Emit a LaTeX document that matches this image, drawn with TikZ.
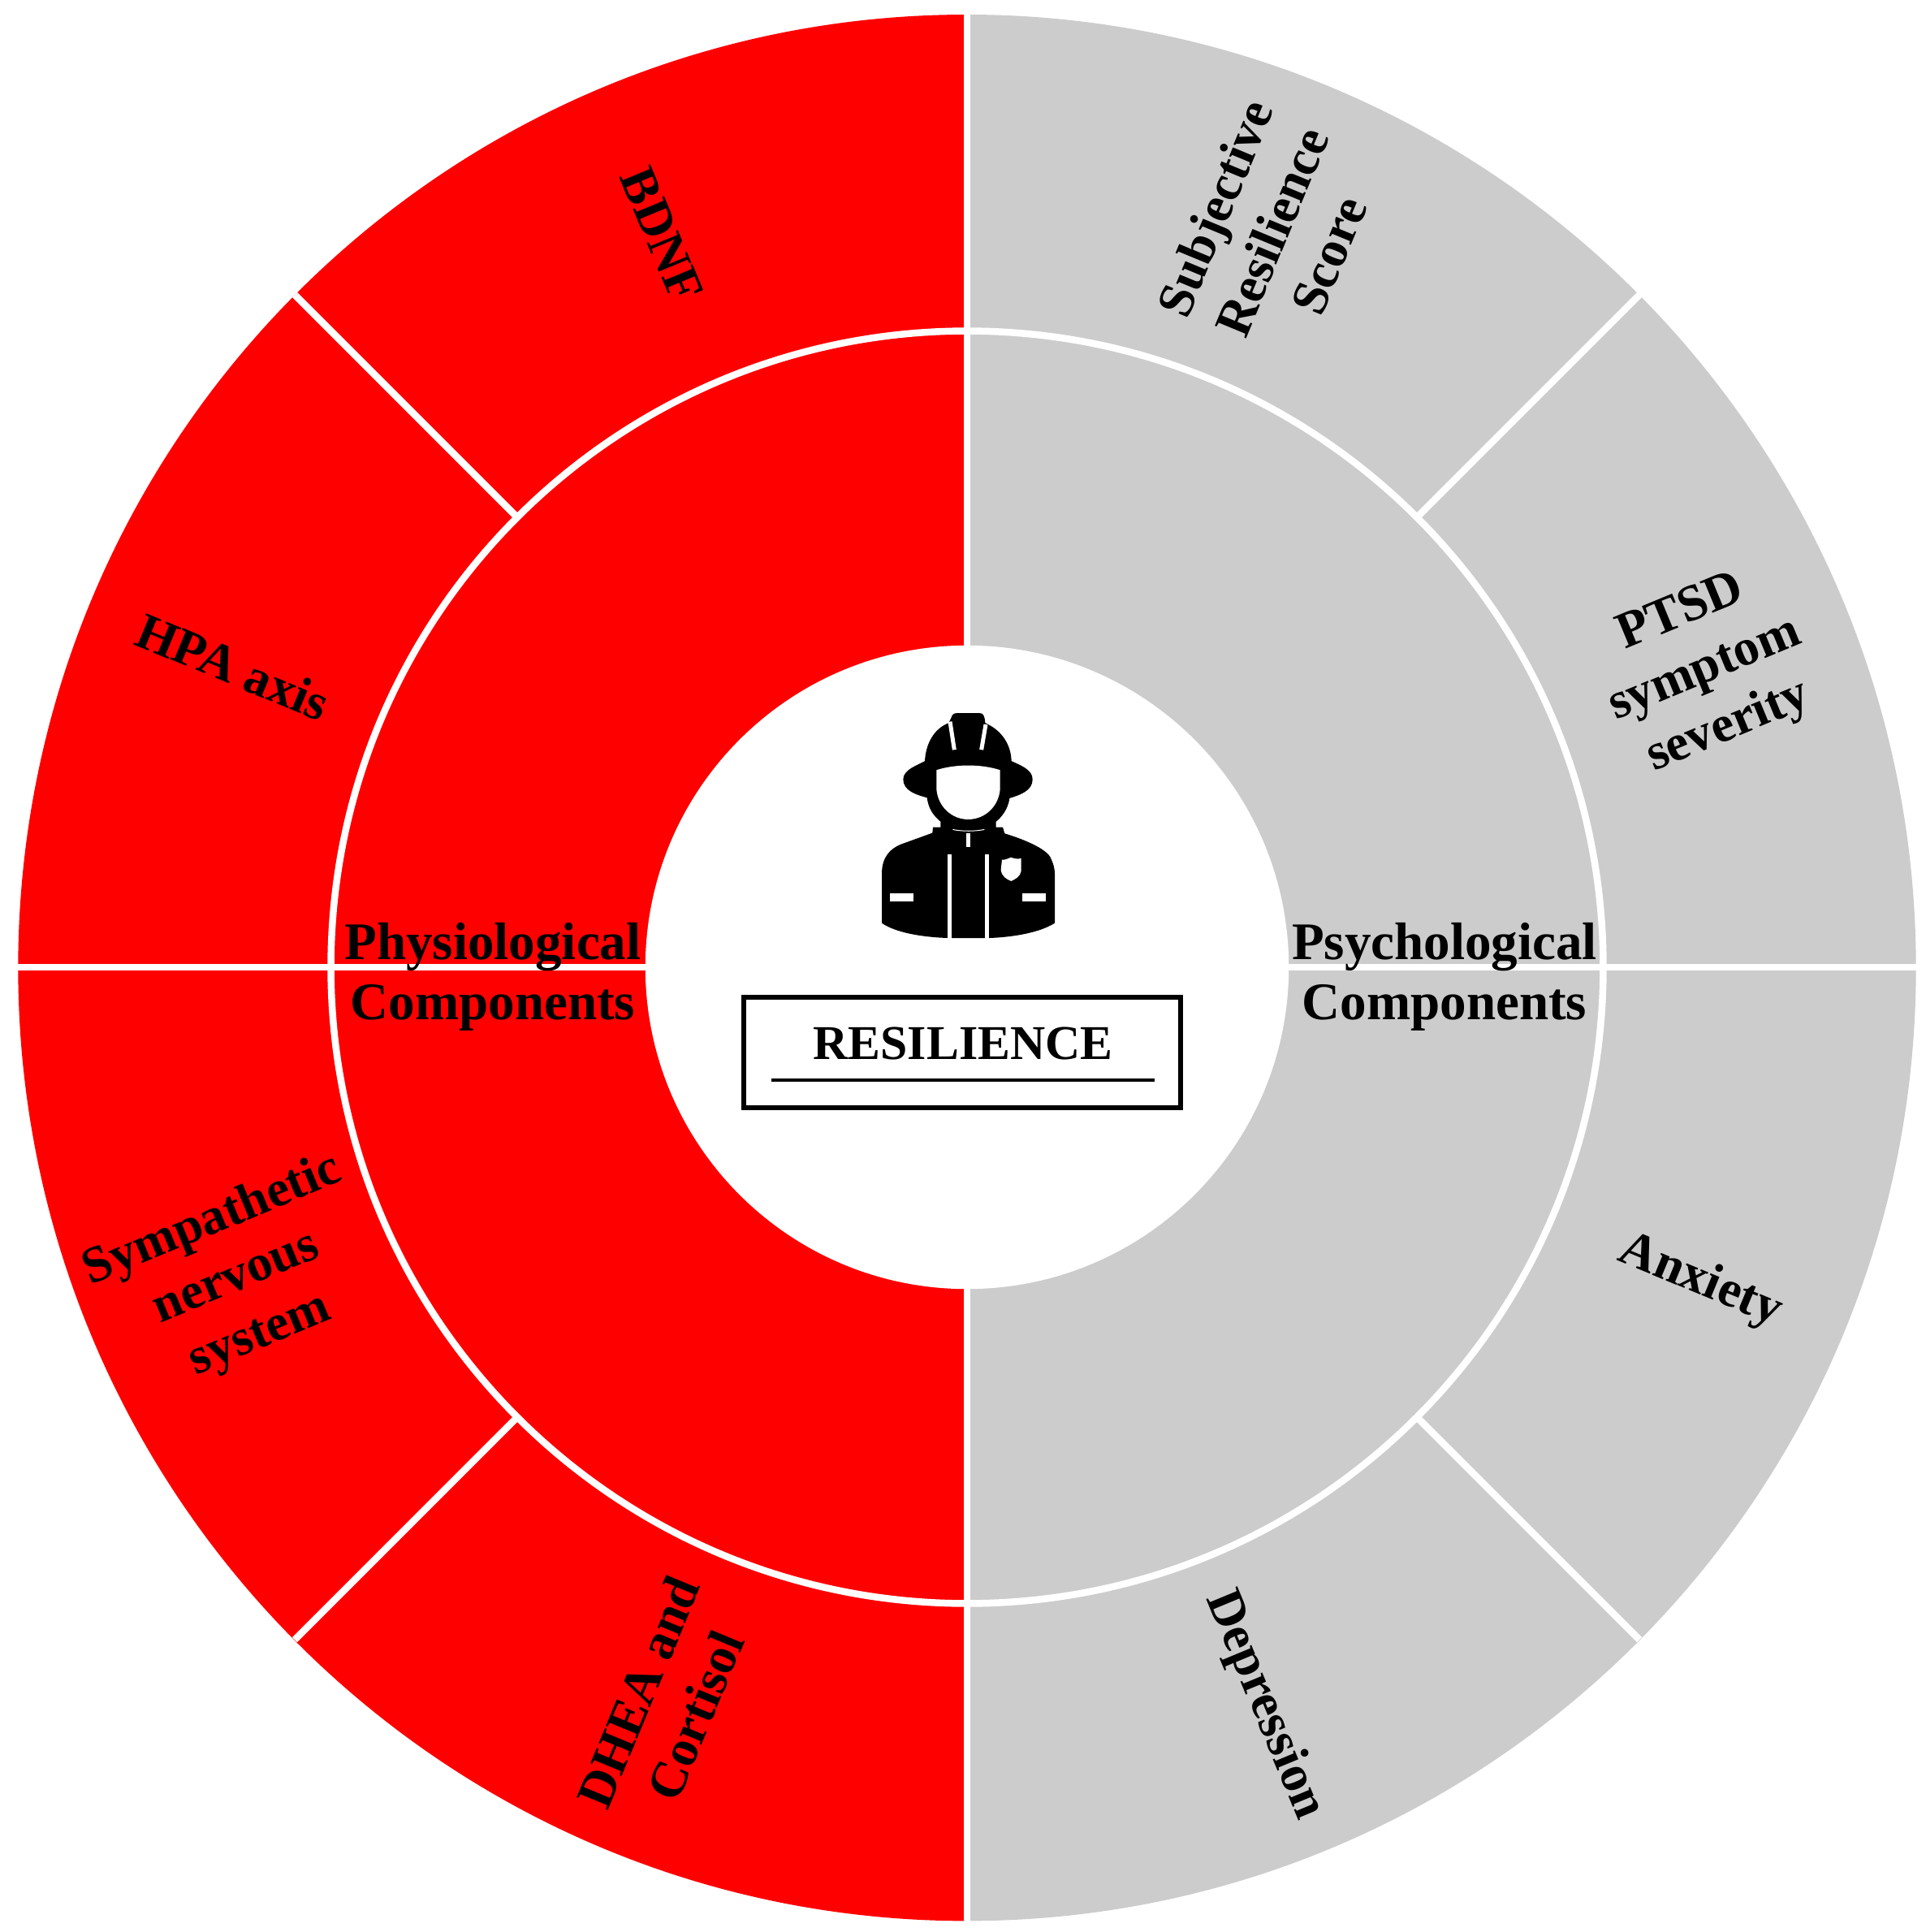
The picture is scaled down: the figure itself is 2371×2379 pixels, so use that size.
\documentclass[tikz,border=0pt]{standalone}
\usepackage{xcolor}
\usepackage{fontspec}
\setmainfont{Liberation Serif}
\usepackage{tikz}
\usetikzlibrary{arrows.meta, positioning}
\definecolor{ringred}{HTML}{FF0000}
\definecolor{ringgray}{HTML}{CCCCCC}
\tikzset{
  lbl/.style={align=center, inner sep=0pt, font=\fontsize{18}{21.6}\selectfont\bfseries},
  grouplbl/.style={align=center, inner sep=0pt, font=\fontsize{18.5}{21}\selectfont\bfseries},
  reslbl/.style={inner sep=0pt, font=\fontsize{17}{20}\selectfont\bfseries},
  gap/.style={draw=white, line width=0.085cm},
  namebox/.style={rectangle, draw=black, line width=0.06cm, fill=white, minimum width=5.38cm, minimum height=1.35cm, inner sep=0pt},
  iconcut/.style={fill=white},
  iconline/.style={draw=white, line width=0.05cm},
}
\begin{document}
\begin{tikzpicture}[x=0.01cm, y=-0.01cm]
    \useasboundingbox (0,0) rectangle (2371,2379);

    % rings
    \fill[ringred] (1191,18) arc[start angle=90, end angle=270, x radius=11.68cm, y radius=11.73cm] -- cycle;
    \fill[ringgray] (1191,18) arc[start angle=90, end angle=-90, x radius=11.68cm, y radius=11.73cm] -- cycle;
    \draw[gap] (1191,1191) circle[radius=7.83cm];
    \draw[gap] (1191,10) -- (1191,2370);
    \draw[gap] (10,1191) -- (2370,1191);
    \draw[gap] (363,363) -- (637,637);
    \draw[gap] (2019,363) -- (1745,637);
    \draw[gap] (363,2019) -- (637,1745);
    \draw[gap] (2019,2019) -- (1745,1745);
    \fill[white] (1191,1191) circle[radius=3.96cm];

    % outer labels
    \node[lbl, rotate=-67.5] (bdnf) at (815,289) {BDNF};
    \node[lbl, rotate=-22.5] (hpa) at (287,821) {HPA axis};
    \node[lbl, rotate=22.5] (symp) at (291,1574) {Sympathetic\\nervous\\system};
    \node[lbl, rotate=67.5] (dhea) at (821,2098) {DHEA and\\Cortisol};
    \node[lbl, rotate=67.5] (subj) at (1566,285) {Subjective\\Resilience\\Score};
    \node[lbl, rotate=22.5] (ptsd) at (2100,826) {PTSD\\symptom\\severity};
    \node[lbl, rotate=-22.5] (anx) at (2094,1578) {Anxiety};
    \node[lbl, rotate=-67.5] (dep) at (1557,2100) {Depression};

    % inner ring labels
    \node[grouplbl] (physio) at (607,1203) {Physiological\\Components};
    \node[grouplbl] (psycho) at (1779,1203) {Psychological\\Components};

    % centre box
    \node[namebox] (resbox) at (1185,1296) {};
    \node[reslbl] (restext) at (1186,1285) {RESILIENCE};
    \draw[line width=0.04cm] (950,1330) -- (1422,1330);

    % firefighter
    \begin{scope}[shift={(1000,840)}, x=0.01cm/3, y=-0.01387cm/4]
      \fill[black] (337,345) .. controls (337,310) and (390,295) .. (417,280)
        .. controls (420,220) and (450,165) .. (505,145)
        -- (515,125) .. controls (518,114) and (525,110) .. (535,110)
        -- (620,110) .. controls (632,110) and (638,118) .. (640,145)
        .. controls (700,170) and (735,220) .. (737,280)
        .. controls (770,295) and (815,310) .. (815,345)
        .. controls (815,385) and (770,400) .. (730,412)
        .. controls (725,450) and (700,480) .. (680,495)
        -- (680,515) -- (705,515) -- (712,537)
        .. controls (790,560) and (860,590) .. (880,620)
        .. controls (892,645) and (897,660) .. (897,680)
        -- (897,855) .. controls (840,890) and (740,905) .. (657,908)
        -- (500,908) .. controls (410,905) and (310,890) .. (258,855)
        -- (258,680) .. controls (258,620) and (290,590) .. (330,575)
        -- (445,535) -- (447,515) -- (475,515) -- (475,495)
        .. controls (450,475) and (430,450) .. (425,410)
        .. controls (385,400) and (337,385) .. (337,345) -- cycle;
      \fill[iconcut] (460,312) .. controls (530,290) and (625,290) .. (695,312)
        -- (695,380) .. controls (690,440) and (640,487) .. (577,487)
        .. controls (515,487) and (465,440) .. (460,380) -- cycle;
      \draw[iconline] (510,140) -- (526,240);
      \draw[iconline] (642,150) -- (626,240);
      \draw[iconline] (507,612) -- (507,910);
      \draw[iconline] (647,612) -- (647,910);
      \draw[iconline] (577,535) -- (577,585);
      \draw[white, line width=0.01cm] (520,523) .. controls (555,530) and (600,530) .. (637,523);
      \fill[iconcut] (288,750) rectangle (375,778);
      \fill[iconcut] (778,750) rectangle (863,778);
      \fill[iconcut] (702,630) .. controls (715,632) and (725,625) .. (735,622)
        .. controls (745,625) and (760,630) .. (773,625) -- (773,670)
        .. controls (770,690) and (750,700) .. (736,706)
        .. controls (720,700) and (700,690) .. (698,665) -- cycle;
    \end{scope}
\end{tikzpicture}
\end{document}
